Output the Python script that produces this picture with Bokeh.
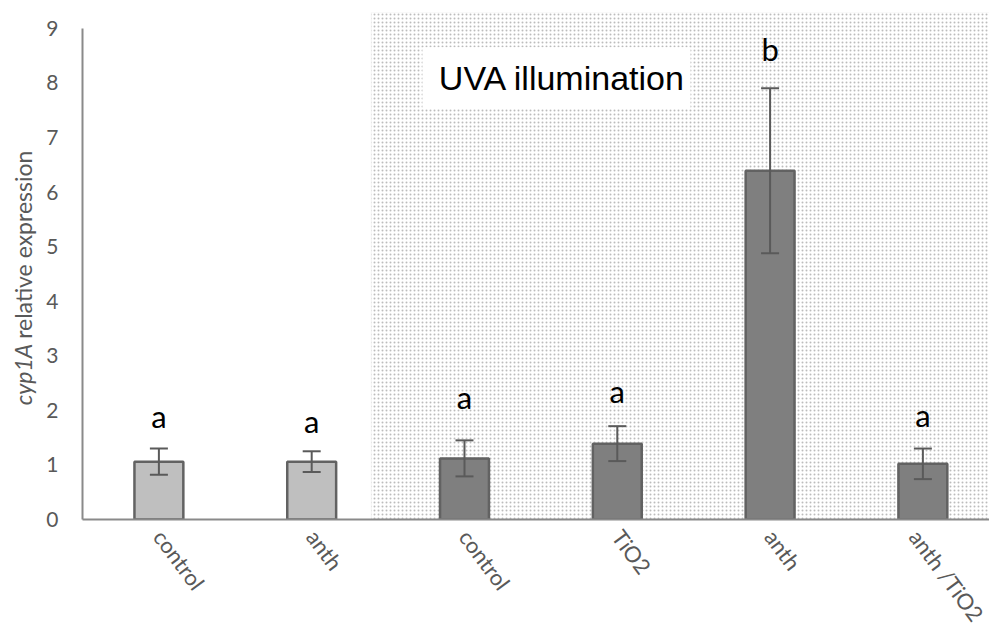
import math
from bokeh.plotting import figure
from bokeh.layouts import row
from bokeh.models import (ColumnDataSource, Range1d, FixedTicker, BoxAnnotation,
                          Label, Whisker, TeeHead)
from bokeh.core.properties import value
from bokeh.embed import file_html
from bokeh.resources import INLINE

# Treatment groups (first two: no UVA, last four: UVA illumination)
groups = ["control", "anth", "control", "TiO2", "anth", "anth /TiO2"]
means = [1.06, 1.06, 1.12, 1.39, 6.39, 1.02]
errors = [0.24, 0.19, 0.33, 0.32, 1.51, 0.28]
letters = ["a", "a", "a", "a", "b", "a"]
letter_heights = [1.90, 1.81, 2.25, 2.36, 8.63, 1.92]
uva = [False, False, True, True, True, True]
y_ticks = [0, 1, 2, 3, 4, 5, 6, 7, 8, 9]

xs = list(range(len(groups)))
colors = ["#7f7f7f" if u else "#bfbfbf" for u in uva]
src = ColumnDataSource(dict(
    x=xs, top=means,
    lower=[m - e for m, e in zip(means, errors)],
    upper=[m + e for m, e in zip(means, errors)],
    color=colors, letter=letters, ly=letter_heights,
))

FONT = "Lato"
GREY_TXT = "#595959"
H = 637
TITLE_W = 40
y_range = Range1d(0, 9.29)

# narrow strip carrying the y-axis title (italic gene name + plain text),
# sharing the value range so the title sits beside the axis
title_fig = figure(width=TITLE_W, height=H, output_backend="svg", toolbar_location=None,
                   x_range=Range1d(0, TITLE_W), y_range=y_range,
                   min_border=0, min_border_top=12, min_border_bottom=117,
                   outline_line_color=None)
title_fig.axis.visible = False
title_fig.grid.visible = False
title_fig.text(x=[22], y=[3.22], text=["cyp1A"], angle=math.pi / 2,
               text_align="right", text_baseline="middle", text_font=value(FONT),
               text_font_style="italic", text_font_size="23px", text_color=GREY_TXT)
title_fig.text(x=[22], y=[3.31], text=["relative expression"], angle=math.pi / 2,
               text_align="left", text_baseline="middle", text_font=value(FONT),
               text_font_size="23px", text_color=GREY_TXT)

p = figure(width=989 - TITLE_W, height=H, output_backend="svg", toolbar_location=None,
           x_range=Range1d(-0.5, 5.436), y_range=y_range,
           min_border_left=82 - TITLE_W, min_border_right=0, min_border_top=12,
           min_border_bottom=117)
p.outline_line_color = None
p.xgrid.visible = False
p.ygrid.visible = False
p.background_fill_color = "white"

# dotted panel marking the UVA-illuminated groups
p.add_layout(BoxAnnotation(left=1.39, fill_color="white", fill_alpha=1.0,
                           hatch_pattern="dot", hatch_scale=4, hatch_weight=1,
                           hatch_color="#bcbcbc", hatch_alpha=1.0,
                           line_color="#d6d6d6", line_width=1, level="underlay"))

p.vbar(x="x", top="top", width=0.32, source=src, fill_color="color",
       line_color="#626262", line_width=2.5)

head = dict(size=18, line_color="#5a5a5a", line_width=2)
p.add_layout(Whisker(source=src, base="x", lower="lower", upper="upper",
                     line_color="#5a5a5a", line_width=2, level="annotation",
                     upper_head=TeeHead(**head), lower_head=TeeHead(**head)))

# significance letters
p.text(x="x", y="ly", text="letter", source=src, text_align="center",
       text_baseline="middle", text_font=value(FONT), text_font_size="31px",
       text_color="black")

# label box inside the UVA panel
p.add_layout(BoxAnnotation(left=1.725, right=3.479, bottom=7.536, top=8.652,
                           fill_color="white", fill_alpha=1.0, line_color=None))
p.add_layout(Label(x=2.64, y=8.094, text="UVA illumination", text_align="center",
                   text_baseline="middle", text_font="Liberation Sans",
                   text_font_size="34px", text_color="black"))

# axes
p.yaxis.ticker = FixedTicker(ticks=y_ticks)
p.yaxis.bounds = (0, 9)
p.yaxis.axis_line_color = "#8a8a8a"
p.yaxis.axis_line_width = 2
p.yaxis.major_tick_out = 0
p.yaxis.major_tick_in = 0
p.yaxis.minor_tick_line_color = None
p.yaxis.major_label_standoff = 24
p.yaxis.major_label_text_font = FONT
p.yaxis.major_label_text_font_size = "21px"
p.yaxis.major_label_text_color = GREY_TXT

p.xaxis.ticker = FixedTicker(ticks=xs)
p.xaxis.major_label_overrides = {i: g for i, g in enumerate(groups)}
p.xaxis.major_label_orientation = -0.93
p.xaxis.axis_line_color = "#8a8a8a"
p.xaxis.axis_line_width = 2
p.xaxis.major_tick_out = 0
p.xaxis.major_tick_in = 0
p.xaxis.minor_tick_line_color = None
p.xaxis.major_label_standoff = 13
p.xaxis.major_label_text_font = FONT
p.xaxis.major_label_text_font_size = "22px"
p.xaxis.major_label_text_color = GREY_TXT

layout = row(title_fig, p, spacing=0)
open("out.html", "w").write(file_html(layout, INLINE))
